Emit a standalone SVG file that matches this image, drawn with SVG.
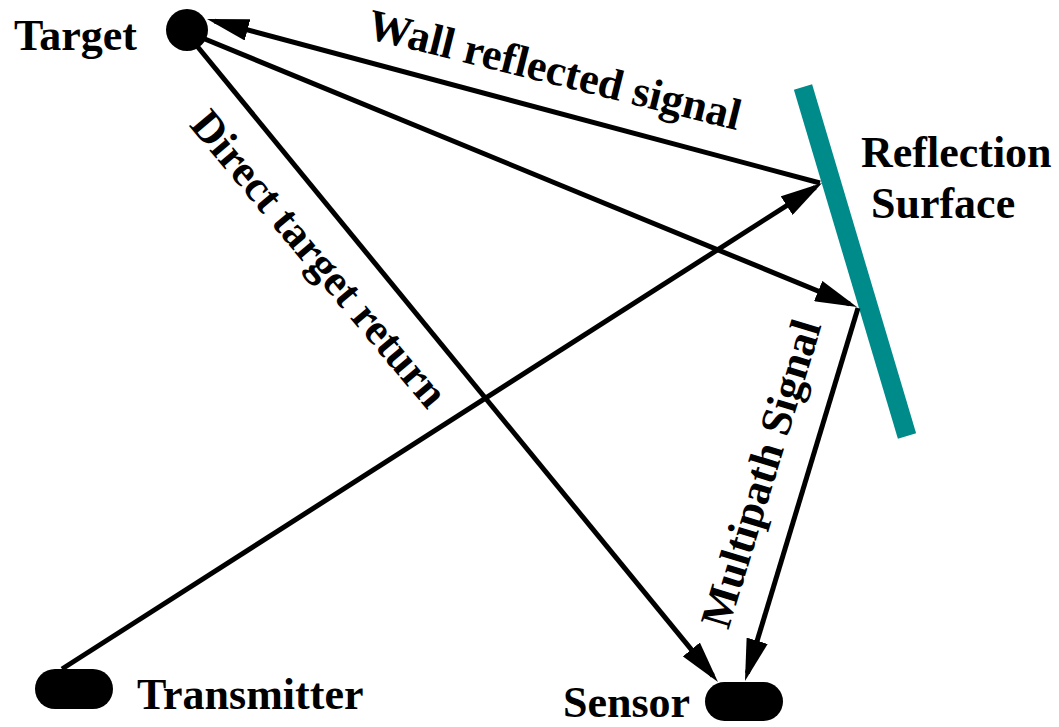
<svg xmlns="http://www.w3.org/2000/svg" width="1059" height="727" viewBox="0 0 1059 727">
<style>
.lbl{font-family:"Liberation Serif","Times New Roman",serif;font-weight:bold;font-size:44px;fill:#000}
.conn{stroke:#000;stroke-width:5;fill:none}
</style>
<defs>
<marker id="ah" markerUnits="userSpaceOnUse" markerWidth="42" markerHeight="22" refX="34" refY="11" orient="auto">
<path d="M0,0 L42,11 L0,22 z" fill="#000"/>
</marker>
</defs>
<rect width="1059" height="727" fill="#fff"/>
<g id="surface">
<line x1="803" y1="87" x2="907" y2="436" stroke="#008B8B" stroke-width="19"/>
<text class="lbl" x="861" y="167">Reflection</text>
<text class="lbl" x="871" y="218">Surface</text>
</g>
<g id="connectors">
<line class="conn" x1="62" y1="669" x2="815.3" y2="187.3" marker-end="url(#ah)"/>
<line class="conn" x1="820" y1="183" x2="214.7" y2="21.1" marker-end="url(#ah)"/>
<line class="conn" x1="200" y1="37" x2="849.6" y2="304" marker-end="url(#ah)"/>
<line class="conn" x1="858" y1="308" x2="747.3" y2="673.3" marker-end="url(#ah)"/>
<line class="conn" x1="197" y1="46" x2="712.9" y2="675.8" marker-end="url(#ah)"/>
<text class="lbl" text-anchor="middle" transform="translate(551,84) rotate(14)">Wall reflected signal</text>
<text class="lbl" text-anchor="middle" transform="translate(308,268) rotate(50)">Direct target return</text>
<text class="lbl" text-anchor="middle" transform="translate(775,478) rotate(-73)">Multipath Signal</text>
</g>
<g id="target">
<circle cx="187" cy="30" r="21" fill="#000"/>
<text class="lbl" x="14" y="50">Target</text>
</g>
<g id="transmitter">
<rect x="35" y="669" width="78" height="40" rx="20" fill="#000"/>
<text class="lbl" x="137" y="709">Transmitter</text>
</g>
<g id="sensor">
<rect x="705" y="682" width="78" height="39" rx="19.5" fill="#000"/>
<text class="lbl" x="563" y="717">Sensor</text>
</g>
</svg>
